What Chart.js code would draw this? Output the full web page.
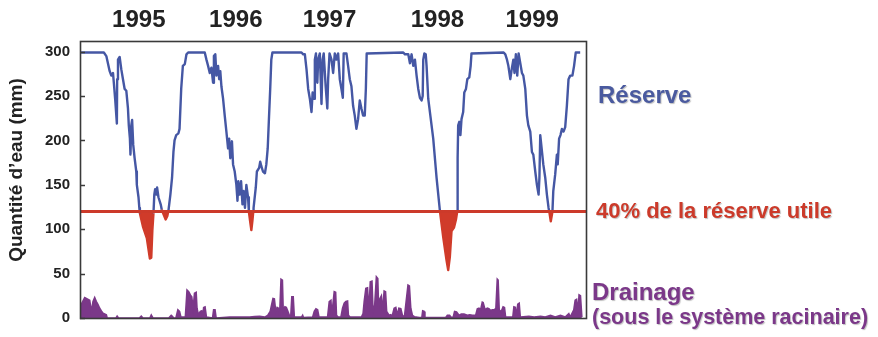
<!DOCTYPE html>
<html>
<head>
<meta charset="utf-8">
<script src="https://cdn.jsdelivr.net/npm/chart.js@4/dist/chart.umd.min.js"></script>
<style>
  html, body { margin: 0; padding: 0; background: #ffffff; }
  #c { display: block; }
</style>
</head>
<body>
<canvas id="c" width="878" height="337"></canvas>
<script>
// ---- Données (jours depuis le début de la période, mm) ----
const reserveJour = [4, 86, 95, 107, 113, 119, 122, 127, 133, 134, 137, 143, 149, 155, 161, 167, 173, 176, 180, 182, 185, 188, 192, 197, 203, 205, 211, 214,
  216, 227, 241, 252, 257, 261, 265,
  268, 271, 276, 278, 283, 291, 295, 301, 309, 315, 319, 326, 332, 337, 341, 347, 355, 359, 365, 371, 378, 384, 390,
  450, 456, 462, 468, 474, 480, 483, 488, 492, 498, 502, 506, 510, 516, 522, 528, 534, 538, 542, 548, 552, 558, 564, 568, 571, 576, 581, 586, 590, 595, 600, 606, 609, 614, 618, 622, 625, 626,
  634, 638, 646, 650, 654, 660, 667, 672, 677, 681, 686, 690, 694,
  799, 805, 811, 817, 823, 829, 835, 839, 844, 847, 851, 856, 859, 865, 871, 875, 879, 886, 892, 895, 900, 907, 913, 919, 925, 931, 937, 943, 948, 951, 961, 967, 973, 979, 985, 991, 997, 1003, 1009, 1015, 1021, 1027, 1031, 1034,
  1166, 1172, 1184, 1190, 1196, 1202, 1208, 1214, 1220, 1226, 1232, 1236, 1238, 1242, 1247, 1250, 1256, 1274, 1286, 1298,
  1310, 1322, 1328, 1334, 1340, 1349, 1356, 1361,
  1362, 1364, 1368, 1372, 1376, 1382, 1386, 1392, 1397, 1404, 1409, 1412,
  1528, 1534, 1540, 1545, 1552, 1558, 1563, 1567, 1572, 1577, 1582, 1588, 1594, 1599, 1606, 1612, 1617, 1624, 1630, 1635, 1642, 1648, 1654, 1657, 1660, 1665, 1671, 1678, 1684, 1690, 1693, 1698, 1704,
  1707, 1714, 1720, 1723, 1728, 1733, 1738, 1744, 1750, 1756, 1762, 1768, 1776, 1782, 1788, 1804];
const reserveMm = [299, 299, 295, 278, 273, 276, 265, 246, 219, 269, 291, 294, 280, 269, 258, 256, 236, 217, 202, 184, 217, 223, 195, 180, 165, 150, 136, 124,
  118, 103, 90, 67, 68, 99, 118,
  139, 145, 139, 147, 136, 128, 122, 117, 111, 115, 121, 139, 158, 187, 200, 206, 208, 213, 258, 284, 286, 297, 299,
  299, 291, 284, 276, 282, 265, 295, 297, 273, 284, 269, 278, 261, 247, 228, 210, 191, 202, 180, 199, 173, 165, 150, 132, 154, 139, 154, 128, 143, 124, 150, 136, 120, 108, 99, 110, 120, 124,
  147, 165, 169, 176, 171, 165, 163, 173, 191, 221, 258, 291, 299,
  299, 297, 297, 280, 258, 247, 232, 254, 247, 291, 298, 265, 291, 298, 241, 291, 298, 261, 236, 269, 298, 291, 276, 298, 291, 298, 269, 258, 248, 298, 298, 284, 269, 261, 239, 228, 213, 224, 245, 236, 228, 228, 258, 298,
  299, 297, 297, 287, 297, 284, 291, 273, 258, 248, 245, 250, 291, 298, 297, 284, 247, 202, 158, 121,
  91, 65, 54, 69, 98, 102, 111, 121,
  180, 217, 221, 206, 224, 232, 254, 258, 269, 271, 284, 298,
  299, 297, 291, 284, 269, 282, 291, 276, 297, 273, 298, 287, 276, 273, 258, 228, 217, 210, 187, 184, 165, 150, 139, 158, 206, 191, 173, 158, 139, 124, 119, 109, 120,
  143, 162, 184, 173, 202, 206, 213, 210, 215, 239, 269, 273, 273, 284, 299, 299];

const drainageJour = [2, 17, 26, 35, 41, 47, 53, 59, 65, 71, 77, 83, 95, 98, 130, 134, 139, 214, 221, 227, 252, 257, 263, 320, 329, 333, 338, 346, 353, 359, 364, 380,
  386, 392, 398, 403, 408, 413, 419, 422, 427, 434, 439, 443, 446, 451, 456, 478, 482, 487, 491, 540, 576, 612, 630, 648, 666, 677,
  686, 691, 696, 701, 706, 711, 716, 720, 725, 730, 733, 739, 744, 749, 755, 760, 764, 769, 773, 799, 803, 806, 839, 845, 851, 857, 862,
  893, 899, 905, 908, 917, 922, 925, 931, 941, 947, 953, 959, 965, 968, 974, 1015, 1021, 1025, 1031, 1037, 1042, 1047, 1053, 1057, 1063,
  1069, 1074, 1077, 1082, 1087, 1091, 1097, 1102, 1106, 1115, 1121, 1125, 1133, 1139, 1145, 1150, 1157, 1163, 1170, 1175, 1183, 1188, 1193, 1199,
  1206, 1224, 1233, 1236, 1241, 1244, 1319, 1325, 1333, 1339, 1346, 1351, 1358, 1367, 1375, 1385, 1397, 1406, 1415, 1427, 1433, 1439, 1445,
  1451, 1454, 1461, 1469, 1475, 1481, 1487, 1495, 1500, 1505, 1508, 1512, 1519, 1526, 1531, 1535, 1561, 1565, 1570, 1573, 1579, 1584, 1588,
  1619, 1638, 1661, 1678, 1697, 1714, 1733, 1750, 1763, 1768, 1781, 1786, 1791, 1796, 1800, 1805, 1810];
const drainageMm = [14, 23, 21.5, 20, 7, 18.5, 23, 18.5, 15, 11, 8, 5.5, 3.7, 0, 0, 2, 0, 0, 2, 0, 0, 3.3, 0, 0, 3, 2, 0, 0, 9.3, 7.4, 1, 1,
  31.5, 29.6, 26, 24, 11, 27.8, 28.9, 11, 3.7, 7.4, 8, 1, 11.9, 12.6, 1, 0, 9.3, 9.3, 0, 1, 1, 1, 1.5, 2, 1, 3,
  7.4, 14.8, 22, 21.5, 7.4, 11.9, 11, 3, 43.7, 42.6, 7.4, 12.6, 11.9, 8, 3, 1, 24, 24, 1, 1, 3, 0.5, 1, 7.4, 10.4, 9.3, 1,
  1, 18.5, 20, 3, 29.6, 29, 3, 1, 1, 11, 16.7, 18.5, 19, 3, 1, 1, 5, 18.5, 33.3, 34, 7.4, 40.7, 41.5, 7.4, 14.8,
  46.3, 44.4, 11, 22, 25, 7.4, 30.4, 29.6, 7.4, 3, 3.7, 1, 11, 11.9, 3, 11, 10.4, 3, 1, 14.8, 37, 36, 11, 3,
  1.5, 0.5, 0.5, 8, 7.4, 0.5, 0.5, 3, 3, 0.5, 1, 7.4, 6.7, 3, 4.4, 4.4, 3, 3.7, 3, 3, 10.4, 11, 9.3,
  17.8, 17.4, 9.3, 11, 10.4, 8.5, 9.3, 9.6, 11, 43.7, 42.6, 9.3, 7, 12.6, 11.9, 1, 1, 12.6, 12, 1, 15.6, 16.7, 1,
  2, 1, 2, 1, 3, 1, 3, 1, 5, 1, 9.3, 20, 21, 7.4, 26, 25, 1];

const annees = ['1995', '1996', '1997', '1998', '1999'];
const anneesJour = [212, 562, 900, 1289, 1631];
const graduationsY = [0, 50, 100, 150, 200, 250, 300];
const seuil = 120;

// ---- Styles ----
const bleu = '#4557a4';
const rouge = '#cc3a2a';
const violet = '#7b3889';
const gris = '#222222';

const pts = (xs, ys) => xs.map((x, i) => ({ x: x, y: ys[i] }));

const decor = {
  id: 'decor',
  afterDraw(chart) {
    const { ctx, chartArea: a, scales } = chart;
    const y = scales.y;
    ctx.save();
    // cadre
    ctx.strokeStyle = '#3a3a3a';
    ctx.lineWidth = 1.6;
    ctx.strokeRect(a.left + 0.5, a.top + 0.5, a.right - a.left, a.bottom - a.top);
    // graduations intérieures
    ctx.lineWidth = 1.5;
    graduationsY.forEach(v => {
      const py = Math.round(y.getPixelForValue(v)) + 0.5;
      ctx.beginPath();
      ctx.moveTo(a.left, py);
      ctx.lineTo(a.left + 5, py);
      ctx.stroke();
    });
    // titre de l'axe Y
    ctx.fillStyle = gris;
    ctx.font = 'bold 19px "Liberation Sans", Arial, sans-serif';
    ctx.textAlign = 'center';
    ctx.textBaseline = 'middle';
    ctx.translate(17, 170);
    ctx.rotate(-Math.PI / 2);
    ctx.fillText('Quantité d\u2019eau (mm)', 0, 0);
    ctx.restore();

    // étiquettes à droite
    ctx.save();
    ctx.textAlign = 'left';
    ctx.textBaseline = 'middle';
    ctx.shadowColor = 'rgba(0,0,0,0.25)';
    ctx.shadowOffsetX = 1;
    ctx.shadowOffsetY = 1;
    ctx.shadowBlur = 1;
    ctx.font = 'bold 24px "Liberation Sans", Arial, sans-serif';
    ctx.fillStyle = '#4a5a9f';
    ctx.fillText('Réserve', 598, 96);
    ctx.font = 'bold 22px "Liberation Sans", Arial, sans-serif';
    ctx.fillStyle = rouge;
    ctx.fillText('40% de la réserve utile', 596, y.getPixelForValue(seuil));
    ctx.font = 'bold 24px "Liberation Sans", Arial, sans-serif';
    ctx.fillStyle = violet;
    ctx.fillText('Drainage', 592, 293);
    ctx.font = 'bold 21.5px "Liberation Sans", Arial, sans-serif';
    ctx.fillText('(sous le système racinaire)', 592, 318);
    ctx.restore();
  }
};

new Chart(document.getElementById('c'), {
  type: 'line',
  data: {
    datasets: [
      {
        label: 'seuil',
        data: [{ x: 0, y: seuil }, { x: 1825, y: seuil }],
        borderColor: rouge,
        borderWidth: 3,
        pointRadius: 0,
        fill: false,
        order: 0
      },
      {
        label: 'Réserve',
        data: pts(reserveJour, reserveMm),
        borderColor: bleu,
        borderWidth: 2.4,
        pointRadius: 0,
        tension: 0,
        borderJoinStyle: 'round',
        fill: { target: { value: seuil }, above: 'rgba(0,0,0,0)', below: '#d03b2a' },
        segment: {
          borderColor: c => ((c.p0.parsed.y + c.p1.parsed.y) / 2 < seuil ? '#d03b2a' : bleu)
        },
        order: 1
      },
      {
        label: 'Drainage',
        data: pts(drainageJour, drainageMm),
        borderColor: violet,
        backgroundColor: violet,
        borderWidth: 1.6,
        pointRadius: 0,
        tension: 0,
        fill: 'origin',
        order: 2
      }
    ]
  },
  options: {
    responsive: false,
    animation: false,
    layout: { autoPadding: false, padding: { left: 0, right: 292, top: 0, bottom: 15 } },
    plugins: { legend: { display: false }, tooltip: { enabled: false } },
    scales: {
      x: { type: 'linear', min: 0, max: 1825, display: false },
      x2: {
        type: 'linear', position: 'top', min: 0, max: 1825,
        grid: { display: false, drawTicks: false },
        border: { display: false },
        afterBuildTicks: s => { s.ticks = anneesJour.map(v => ({ value: v })); },
        afterFit: s => { s.height = 41; },
        ticks: {
          autoSkip: false, maxRotation: 0, padding: 6, color: gris,
          font: { family: '"Liberation Sans", Arial, sans-serif', size: 24, weight: 'bold' },
          callback: v => annees[anneesJour.indexOf(v)]
        }
      },
      y: {
        min: 0, max: 312,
        afterBuildTicks: s => { s.ticks = graduationsY.map(v => ({ value: v })); },
        afterFit: s => { s.width = 80; },
        grid: { display: false, drawTicks: false },
        border: { display: false },
        ticks: {
          padding: 10, color: gris,
          font: { family: '"Liberation Sans", Arial, sans-serif', size: 15, weight: 'bold' }
        }
      }
    }
  },
  plugins: [decor]
});
</script>
</body>
</html>
